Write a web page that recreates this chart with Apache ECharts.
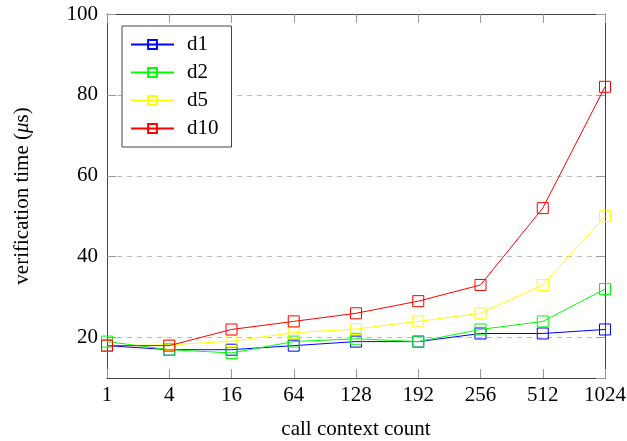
<!DOCTYPE html>
<html>
<head>
<meta charset="utf-8">
<script src="https://cdn.jsdelivr.net/npm/echarts@6/dist/echarts.min.js"></script>
<style>html,body{margin:0;padding:0;background:#fff;}#c{width:627px;height:441px;}</style>
</head>
<body>
<div id="c"></div>
<script>
var categories = ['1', '4', '16', '64', '128', '192', '256', '512', '1024'];
var d1  = [18, 17, 17, 18, 19, 19, 21, 21, 22];
var d2  = [19, 17, 16.2, 19, 19.7, 19, 22, 24, 32];
var d5  = [18, 18.2, 19.1, 21.2, 22.1, 24, 26, 33, 50];
var d10 = [18, 18, 22, 24, 26, 29, 33, 52, 82];
var seriesNames = ['d1', 'd2', 'd5', 'd10'];
var seriesColors = ['#0000ff', '#00ff00', '#ffff00', '#ff0000'];
var seriesData = [d1, d2, d5, d10];

var FONT = 'Liberation Serif';
var FS = 21;
var chart = echarts.init(document.getElementById('c'));
var frame = '#444';
var tickColor = '#999';

var option = {
  animation: false,
  backgroundColor: '#fff',
  textStyle: { fontFamily: FONT },
  grid: { left: 107, right: 22, top: 14, bottom: 63, containLabel: false, outerBoundsMode: 'none' },
  legend: {
    orient: 'vertical',
    left: 122, top: 26,
    padding: [8, 13, 8, 8],
    itemGap: 7,
    itemWidth: 43,
    itemHeight: 11,
    borderColor: frame,
    borderWidth: 1,
    backgroundColor: '#fff',
    textStyle: { fontFamily: FONT, fontSize: FS, color: '#000', padding: [0, 0, 0, 8] },
    data: seriesNames
  },
  xAxis: [
    {
      type: 'category', data: categories, boundaryGap: false, position: 'bottom',
      axisLine: { lineStyle: { color: frame, width: 1 } },
      axisTick: { inside: true, length: 9, lineStyle: { color: tickColor } },
      axisLabel: { fontFamily: FONT, fontSize: FS, color: '#000', margin: 7 },
      name: 'call context count', nameLocation: 'middle', nameGap: 41,
      nameTextStyle: { fontFamily: FONT, fontSize: FS, color: '#000' }
    },
    {
      type: 'category', data: categories, boundaryGap: false, position: 'top',
      axisLine: { lineStyle: { color: frame, width: 1 } },
      axisTick: { inside: true, length: 9, lineStyle: { color: tickColor } },
      axisLabel: { show: false }
    }
  ],
  yAxis: [
    {
      type: 'value', min: 10, max: 100, splitNumber: 5, position: 'left',
      axisLine: { show: true, lineStyle: { color: frame, width: 1 } },
      axisTick: { show: true, inside: true, length: 9, lineStyle: { color: tickColor } },
      axisLabel: { fontFamily: FONT, fontSize: FS, color: '#000', margin: 9, showMinLabel: false },
      splitLine: { show: true, lineStyle: { color: '#bbb', type: [5, 5], width: 1 } },
      name: 'verification time ({i|μ}s)', nameLocation: 'middle', nameGap: 74,
      nameTextStyle: { fontFamily: FONT, fontSize: FS, color: '#000',
        rich: { i: { fontFamily: FONT, fontSize: FS, fontStyle: 'italic', color: '#000' } } }
    },
    {
      type: 'value', min: 10, max: 100, splitNumber: 5, position: 'right',
      axisLine: { show: true, lineStyle: { color: frame, width: 1 } },
      axisTick: { show: true, inside: true, length: 9, lineStyle: { color: tickColor } },
      axisLabel: { show: false },
      splitLine: { show: false }
    }
  ],
  series: seriesNames.map(function (n, i) {
    return {
      name: n, type: 'line', data: seriesData[i],
      xAxisIndex: 0, yAxisIndex: 0,
      symbol: 'rect', symbolSize: 11, showSymbol: true,
      lineStyle: { color: seriesColors[i], width: 1 },
      itemStyle: { color: 'rgba(255,255,255,0)', borderColor: seriesColors[i], borderWidth: 1 },
      emphasis: { disabled: true },
      z: 3 + i
    };
  })
};
chart.setOption(option);
</script>
</body>
</html>
